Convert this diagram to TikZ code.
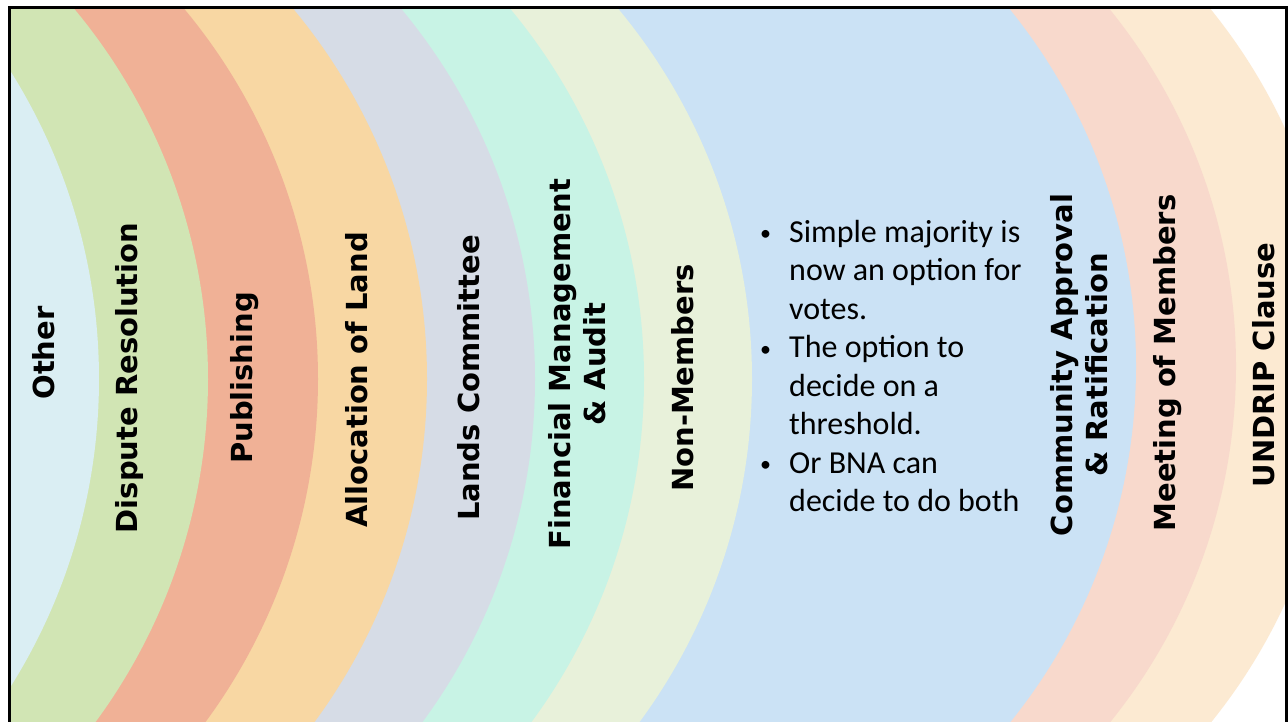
\documentclass[tikz,border=0pt]{standalone}
\usepackage{fontspec}
\newfontfamily\labfont{DejaVu Sans}
\newfontfamily\bulfont{Carlito}
\definecolor{cOther}{RGB}{218,238,243}
\definecolor{cDisp}{RGB}{209,229,180}
\definecolor{cPub}{RGB}{240,177,150}
\definecolor{cAlloc}{RGB}{248,215,163}
\definecolor{cLands}{RGB}{214,220,230}
\definecolor{cFin}{RGB}{200,243,229}
\definecolor{cNon}{RGB}{232,241,218}
\definecolor{cComm}{RGB}{203,226,245}
\definecolor{cMeet}{RGB}{248,217,204}
\definecolor{cUnd}{RGB}{252,234,210}
\newcommand{\smallbul}{\hspace*{3pt}\raisebox{1.5pt}{\fontsize{22}{22}\selectfont •}}
\begin{document}
\begin{tikzpicture}[x=1pt,y=-1pt,
  lab/.style={rotate=90, align=center, text=black, inner sep=0pt,
    font=\labfont\bfseries\fontsize{29}{35}\selectfont},
  bulnode/.style={anchor=base west, inner sep=0pt, text=black,
    font=\bulfont\fontsize{32}{38.5}\selectfont},
  frameline/.style={draw=black, line width=3pt}]
\useasboundingbox (0,0) rectangle (1288,721);
\fill[white] (0,0) rectangle (1288,721);
\begin{scope}
  \clip (9,7.5) rectangle (1286,730);
  % outer group
  \fill[cUnd]  (770,366) circle[radius=567pt];
  \fill[cMeet] (669,366) circle[radius=567pt];
  \fill[cComm] (569,366) circle[radius=567pt];
  % inner group
  \fill[cNon]   (173,379) circle[radius=579pt];
  \fill[cFin]   (65,379)  circle[radius=579pt];
  \fill[cLands] (-44,379) circle[radius=579pt];
  \fill[cAlloc] (-152,379) circle[radius=579pt];
  \fill[cPub]   (-261,379) circle[radius=579pt];
  \fill[cDisp]  (-371,379) circle[radius=579pt];
  \fill[cOther] (-480,379) circle[radius=579pt];
\end{scope}
\draw[frameline] (9,730) -- (9,7.5) -- (1286,7.5) -- (1286,730);

\node[lab] (lOther) at (44,353) {Other};
\node[lab] (lDisp) at (129,378) {Dispute Resolution};
\node[lab] (lPub) at (245,378) {Publishing};
\node[lab] (lAlloc) at (357,380) {Allocation of Land};
\node[lab] (lLands) at (469,378) {Lands Committee};
\node[lab] (lFin) at (577,364) {Financial Management\\\& Audit};
\node[lab] (lNon) at (683,378) {Non-Members};
\node[lab] (lComm) at (1079,365) {Community Approval\\\& Ratification};
\node[lab] (lMeet) at (1168,363) {Meeting of Members};
\node[lab] (lUnd) at (1264,365) {UNDRIP Clause};

\node[bulnode] (bullets) at (757,242) {%
  \begin{tabular}[t]{@{}p{32pt}@{}l@{}}
  \smallbul & Simple majority is\\
    & now an option for\\
    & votes.\\
  \smallbul & The option to\\
    & decide on a\\
    & threshold.\\
  \smallbul & Or BNA can\\
    & decide to do both
  \end{tabular}};
\end{tikzpicture}
\end{document}
